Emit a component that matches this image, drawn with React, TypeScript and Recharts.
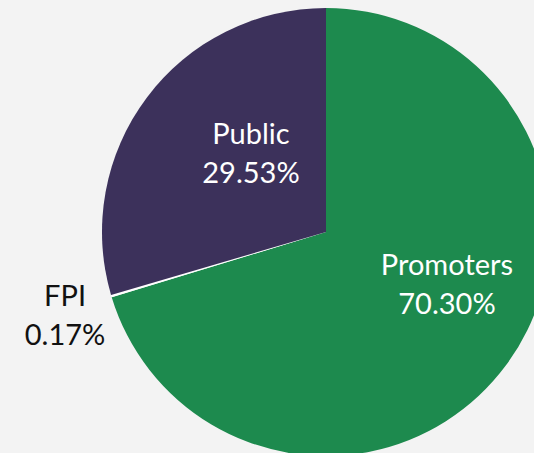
import { PieChart, Pie, Cell } from 'recharts';

// shareholding split, clockwise from 12 o'clock
const holders = ['Promoters', 'FPI', 'Public'];
const shares = [70.3, 0.17, 29.53];
const shareLabels = ['70.30%', '0.17%', '29.53%'];

const sliceColors = ['#1d8a4e', '#ffffff', '#3c315b'];
const labelColors = ['#ffffff', '#111111', '#ffffff'];

// where Excel put each label, as a fraction of the radius from the center
const labelSpot: Record<string, [number, number]> = {
  Promoters: [0.54, 0.275],
  FPI: [-1.165, 0.413],
  Public: [-0.335, -0.308],
};

const data = holders.map((name, i) => ({ name, value: shares[i], text: shareLabels[i] }));

const FONT = 'Lato, "Open Sans", sans-serif';

function renderLabel(props: any) {
  const { cx, cy, outerRadius, index } = props;
  const item = data[index];
  const [fx, fy] = labelSpot[item.name];
  const x = cx + fx * outerRadius;
  const y = cy + fy * outerRadius;
  return (
    <text x={x} y={y} textAnchor="middle" fill={labelColors[index]} fontFamily={FONT} fontSize={29}>
      <tspan x={x} y={y - 19}>{item.name}</tspan>
      <tspan x={x} y={y + 20}>{item.text}</tspan>
    </text>
  );
}

export default function App() {
  return (
    <div style={{ position: 'absolute', left: 0, top: 0, width: 534, height: 453, background: '#f3f3f3', overflow: 'hidden' }}>
      <PieChart width={534} height={453} margin={{ top: 0, right: 0, bottom: 0, left: 0 }}>
        <Pie
          data={data}
          dataKey="value"
          nameKey="name"
          cx={326}
          cy={232}
          outerRadius={224}
          startAngle={90}
          endAngle={-270}
          stroke="none"
          label={renderLabel}
          labelLine={false}
          isAnimationActive={false}
        >
          {data.map((d, i) => (
            <Cell key={d.name} fill={sliceColors[i]} />
          ))}
        </Pie>
      </PieChart>
    </div>
  );
}
